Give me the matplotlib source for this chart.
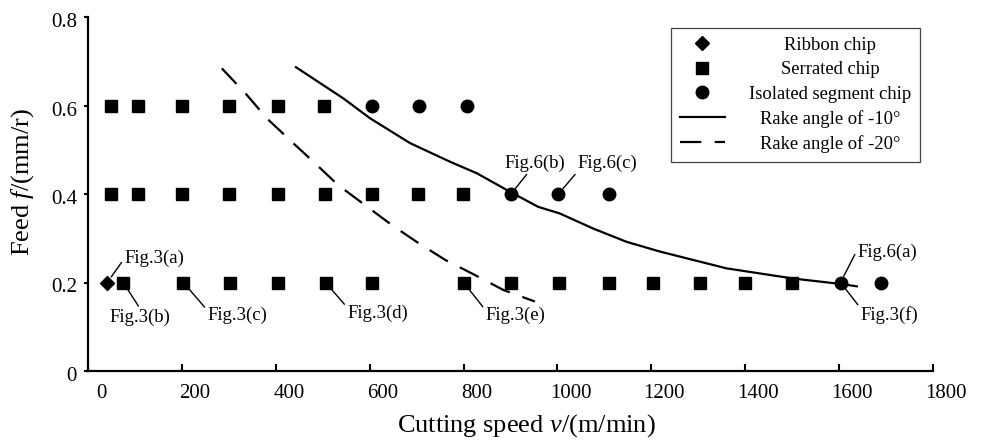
import matplotlib
matplotlib.use('Agg')
import matplotlib.pyplot as plt
from matplotlib.lines import Line2D
import matplotlib.transforms as mtransforms

plt.rcParams['font.family'] = ['Liberation Serif', 'DejaVu Serif']
plt.rcParams['mathtext.fontset'] = 'custom'
plt.rcParams['mathtext.rm'] = 'Liberation Serif'
plt.rcParams['mathtext.it'] = 'Liberation Serif:italic'

# ---------------- data ----------------
feed_levels = [0.6, 0.4, 0.2]

ribbon_v = [41]
ribbon_f = [0.2]

serrated_v_06 = [49, 106, 201, 300, 404, 503]
serrated_v_04 = [49, 106, 201, 300, 405, 505, 604, 704, 798]
serrated_v_02 = [75, 203, 303, 404, 506, 605, 800, 901, 1003, 1110, 1203, 1303, 1400, 1500]

isolated_v_06 = [605, 706, 807]
isolated_v_04 = [901, 1002, 1110]
isolated_v_02 = [1603, 1689]

rake10_v = [441, 544, 601, 686, 771, 828, 899, 959, 1005, 1076, 1147, 1218, 1360, 1502, 1601, 1640]
rake10_f = [0.688, 0.616, 0.571, 0.515, 0.473, 0.447, 0.405, 0.371, 0.356, 0.322, 0.292, 0.270,
            0.232, 0.209, 0.197, 0.191]

rake20_v = [285, 335, 381, 434, 484, 533, 590, 647, 704, 761, 824, 885, 952]
rake20_f = [0.684, 0.628, 0.571, 0.518, 0.469, 0.420, 0.375, 0.330, 0.289, 0.251, 0.217, 0.183, 0.157]

x_ticks = [0, 200, 400, 600, 800, 1000, 1200, 1400, 1600, 1800]
y_ticks = [0, 0.2, 0.4, 0.6, 0.8]
y_tick_labels = ['0', '0.2', '0.4', '0.6', '0.8']

legend_labels = ['Ribbon chip', 'Serrated chip', 'Isolated segment chip',
                 'Rake angle of -10°', 'Rake angle of -20°']

serrated_groups = [serrated_v_06, serrated_v_04, serrated_v_02]
isolated_groups = [isolated_v_06, isolated_v_04, isolated_v_02]
serrated_v = [v for g in serrated_groups for v in g]
serrated_f = [f for g, f in zip(serrated_groups, feed_levels) for _ in g]
isolated_v = [v for g in isolated_groups for v in g]
isolated_f = [f for g, f in zip(isolated_groups, feed_levels) for _ in g]

# ---------------- figure ----------------
W, H = 984, 441
fig = plt.figure(figsize=(W / 100, H / 100), dpi=100)
ax = fig.add_axes([88 / W, (H - 371) / H, 845 / W, 354 / H])

ax.plot(rake10_v, rake10_f, color='black', lw=1.6, solid_capstyle='butt', zorder=2)
ax.plot(rake20_v, rake20_f, color='black', lw=1.6, dashes=(9.6, 6), dash_capstyle='butt', zorder=2)
ax.plot(ribbon_v, ribbon_f, ls='none', marker='D', ms=7.5, color='black', zorder=3)
ax.plot(serrated_v, serrated_f, ls='none', marker='s', ms=8.5, color='black', zorder=3)
ax.plot(isolated_v, isolated_f, ls='none', marker='o', ms=9, color='black', zorder=3)

ax.set_xlim(0, 1800)
ax.set_ylim(0, 0.8)
ax.set_xticks(x_ticks)
ax.set_yticks(y_ticks)
ax.set_yticklabels(y_tick_labels)
for s in ['top', 'right']:
    ax.spines[s].set_visible(False)
for s in ['left', 'bottom']:
    ax.spines[s].set_linewidth(1.6)
ax.tick_params(axis='x', direction='in', length=5, width=1.5, labelsize=15, pad=9)
ax.tick_params(axis='y', direction='out', length=3, width=1.5, labelsize=15, pad=5)

dx = mtransforms.ScaledTranslation(13 / 100, 0, fig.dpi_scale_trans)
for lab in ax.get_xticklabels():
    lab.set_transform(lab.get_transform() + dx)
dy = mtransforms.ScaledTranslation(0, -3 / 100, fig.dpi_scale_trans)
for lab in ax.get_yticklabels():
    lab.set_transform(lab.get_transform() + dy)

ax.set_xlabel('Cutting speed $v$/(m/min)', fontsize=19)
ax.set_ylabel('Feed $f$/(mm/r)', fontsize=19)
ax.xaxis.set_label_coords(0.519, -0.115)
ax.yaxis.set_label_coords(-0.062, 0.534)

# ---------------- annotations ----------------
ann_fs = 13.5
annotations = [
    ('Fig.3(a)', ribbon_v[0], ribbon_f[0], (47, 24), (0.0, 0.5)),
    ('Fig.3(b)', serrated_v_02[0], feed_levels[2], (17, -35), (0.5, 1.0)),
    ('Fig.3(c)', serrated_v_02[1], feed_levels[2], (54, -33), (0.0, 0.8)),
    ('Fig.3(d)', serrated_v_02[4], feed_levels[2], (52, -31), (0.0, 0.85)),
    ('Fig.3(e)', serrated_v_02[6], feed_levels[2], (52, -33), (0.0, 0.8)),
    ('Fig.6(b)', isolated_v_04[0], feed_levels[1], (24, 31), (0.4, 0.0)),
    ('Fig.6(c)', isolated_v_04[1], feed_levels[1], (49, 31), (0.0, 0.0)),
    ('Fig.6(a)', isolated_v_02[0], feed_levels[2], (47, 30), (0.0, 0.7)),
    ('Fig.3(f)', isolated_v_02[0], feed_levels[2], (49, -33), (0.0, 0.9)),
]
for txt, x, y, off, rp in annotations:
    ax.annotate(txt, xy=(x, y), xytext=off, textcoords='offset pixels',
                ha='center', va='center', fontsize=ann_fs,
                arrowprops=dict(arrowstyle='-', lw=1.0, color='black', relpos=rp,
                                shrinkA=0, shrinkB=5),
                zorder=4)

# ---------------- legend ----------------
handles = [
    Line2D([], [], ls='none', marker='D', ms=7.5, color='black'),
    Line2D([], [], ls='none', marker='s', ms=8.5, color='black'),
    Line2D([], [], ls='none', marker='o', ms=9, color='black'),
    Line2D([], [], color='black', lw=1.6),
    Line2D([], [], color='black', lw=1.6, dashes=(9.6, 6)),
]
leg = ax.legend(handles, legend_labels, loc='upper right', bbox_to_anchor=(0.985, 0.970),
                borderaxespad=0, fontsize=13.4, frameon=True, fancybox=False,
                edgecolor='#444444', framealpha=1, handlelength=2.4, handletextpad=1.3,
                borderpad=0.5, labelspacing=0.39)
leg.get_frame().set_linewidth(0.9)

fig.canvas.draw()
texts = leg.get_texts()
widths = [t.get_window_extent().width for t in texts]
wmax = max(widths)
for t, w in zip(texts, widths):
    t.set_x((wmax - w) / 2)

fig.savefig('out.png', dpi=100)
